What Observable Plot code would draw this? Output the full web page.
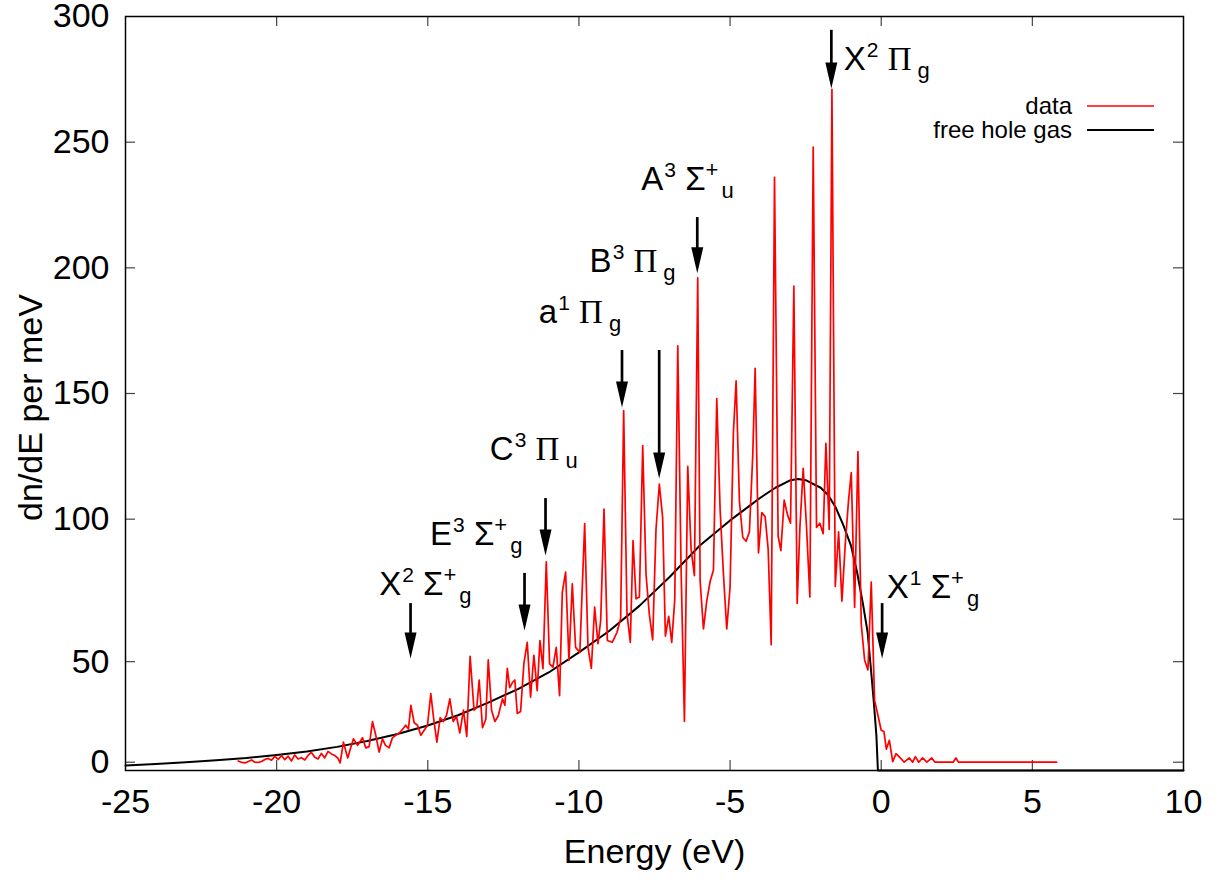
<!DOCTYPE html>
<html><head><meta charset="utf-8">
<script src="https://cdn.jsdelivr.net/npm/d3@7"></script>
<script src="https://cdn.jsdelivr.net/npm/@observablehq/plot@0.6"></script>
<style>body{margin:0;background:#fff;} svg{display:block;}</style>
</head><body><div id="chart"></div>
<script>
// ---- data ----
const energy = [
-21.27,-21.16,-21.05,-20.94,-20.83,-20.72,-20.61,-20.50,-20.39,-20.28,-20.17,-20.06,-19.95,-19.84,-19.73,-19.62,-19.51,-19.40,-19.29,-19.18,-19.07,-18.96,-18.85,-18.74,-18.63,-18.52,-18.41,-18.30,-18.19,-18.08,-17.97,-17.90,
-17.79,-17.65,-17.46,-17.32,-17.16,-17.05,-16.94,-16.83,-16.72,-16.61,-16.50,-16.40,-16.28,-16.17,-16.06,-15.95,-15.84,-15.73,-15.64,-15.56,-15.45,-15.34,-15.23,-15.12,-15.01,
-14.90,-14.81,-14.70,-14.59,-14.48,-14.38,-14.27,-14.16,-14.05,-13.94,-13.82,-13.71,-13.60,-13.47,-13.38,-13.30,-13.19,-13.08,-13.00,-12.89,-12.78,-12.67,-12.53,-12.45,-12.37,-12.29,-12.20,-12.12,-12.04,
-11.93,-11.82,-11.71,-11.60,-11.49,-11.38,-11.29,-11.19,-11.08,-10.97,-10.86,-10.75,-10.64,-10.55,-10.44,-10.33,-10.22,-10.11,-9.97,-9.81,-9.70,-9.59,-9.48,-9.37,-9.28,-9.17,-9.06,
-8.90,-8.74,-8.62,-8.52,-8.41,-8.30,-8.21,-8.11,-8.00,-7.89,-7.78,-7.67,-7.56,-7.45,-7.34,-7.23,-7.14,-7.03,-6.93,-6.83,-6.73,-6.62,-6.51,-6.40,-6.29,-6.18,-6.07,
-5.99,-5.88,-5.77,-5.66,-5.55,-5.44,-5.33,-5.22,-5.11,-5.00,-4.89,-4.80,-4.69,-4.58,-4.47,-4.36,-4.25,-4.17,-4.06,-3.95,-3.84,-3.74,-3.64,-3.53,
-3.41,-3.32,-3.21,-3.10,-3.00,-2.89,-2.78,-2.69,-2.58,-2.47,-2.36,-2.25,-2.14,-2.03,-1.92,-1.83,-1.72,-1.63,-1.52,-1.41,-1.30,-1.19,-1.08,-0.99,-0.88,-0.77,-0.66,-0.55,-0.44,-0.33,-0.22,-0.11,
0.00,0.09,0.17,0.27,0.38,0.49,0.63,0.76,0.93,1.04,1.13,1.24,1.37,1.51,1.67,1.78,2.38,2.47,2.56,5.80
];
const dndE = [
3.8,3.2,3.0,3.6,4.2,3.3,3.2,3.6,4.4,4.8,4.1,5.6,4.4,6.0,4.3,5.7,3.8,6.2,4.6,5.1,4.2,6.0,7.2,5.3,4.6,6.8,5.0,7.6,6.6,6.0,4.8,3.0,
11.3,5.0,12.6,10.0,13.0,9.0,9.5,19.5,14.0,7.3,12.6,10.0,9.0,13.0,14.0,14.8,16.3,18.0,16.5,25.9,19.0,18.0,14.0,16.0,18.0,
30.6,21.0,11.3,21.0,19.5,22.0,28.5,19.5,21.5,15.0,24.0,13.5,45.4,24.0,25.0,36.0,17.0,20.4,44.0,24.0,19.5,21.7,28.5,26.0,40.6,33.0,35.0,36.0,22.7,
23.5,42.6,51.0,29.2,45.8,31.8,51.7,40.5,83.0,42.4,41.1,49.0,29.8,71.0,78.9,43.8,74.3,49.0,47.0,98.2,49.0,40.6,65.0,50.5,59.7,104.0,51.7,
51.0,55.0,60.5,143.2,62.3,51.0,91.5,68.3,69.0,129.3,78.0,62.0,52.0,96.0,114.0,100.5,53.5,61.3,51.0,68.0,169.0,80.0,19.5,121.0,88.0,77.5,196.0,
75.2,56.3,67.6,75.2,79.8,148.0,104.0,78.3,56.3,73.0,134.5,155.0,107.0,92.7,91.2,95.0,125.4,160.0,86.6,102.6,101.0,88.0,50.0,236.0,
93.3,87.5,107.6,101.7,98.4,192.7,66.5,96.7,120.2,96.7,69.0,248.0,96.7,98.4,94.2,130.2,95.9,271.0,73.2,95.0,67.4,90.0,107.6,118.5,64.9,126.9,58.2,44.0,40.0,75.0,28.0,22.0,
16.0,15.5,8.5,12.0,3.5,6.7,5.0,3.3,5.0,3.3,5.5,3.3,5.0,3.3,5.0,3.3,3.3,5.0,3.3,3.3
];
const gasEnergy = [-25,-24,-23,-22,-21,-20,-19,-18,-17,-16,-15,-14,-13,-12,-11,-10,-9,-8,-7,-6,-5,-4.5,-4,-3.5,-3,-2.75,-2.5,-2,-1.75,-1.5,-1.25,-1,-0.8,-0.6,-0.45,-0.33,-0.25,-0.16,-0.11,10];
const gasDensity = [2.0,2.6,3.3,4.1,5.0,6.2,7.6,9.4,11.7,14.5,17.9,22.0,27.0,32.5,39.0,47.0,55.5,65.5,77.0,89.5,99.5,104,108.5,112.5,115.5,116,115.5,112.5,109.5,104.5,97.5,89.5,79,66,55,39,28,14,0,0];

const xTickValues = [-25,-20,-15,-10,-5,0,5,10];
const yTickValues = [3.3,43.3,100,150,200,250,300];
const yTickLabels = ["0","50","100","150","200","250","300"];

// arrows: energy, from density, to density
const arrowEnergy = [-1.65,-6.085,-8.575,-7.345,-11.105,-11.8,-15.57,0.03];
const arrowFrom   = [294.5,220.0,167.1,167.1,108.2,78.4,66.4,66.4];
const arrowTo     = [271.4,197.8,144.4,116.2,85.5,55.7,44.6,44.6];

// state labels
const labelLetter  = ["X","A","B","a","C","E","X","X"];
const labelMult    = ["2","3","3","1","3","3","2","1"];
const labelSymbol  = ["Π","Σ","Π","Π","Π","Σ","Σ","Σ"];
const labelParity  = ["g","u","g","g","u","g","g","g"];
const labelEnergy  = [-1.22,-7.92,-9.63,-11.31,-12.93,-14.91,-16.59,0.2];
const labelDensity = [278.5,230.8,198.2,177.9,123.3,89.5,69.6,68.4];

const legendNames = ["data","free hole gas"];
const legendColors = ["#ff0000","#000000"];

// ---- build ----
const dataRows = energy.map((e,i)=>({e, v:dndE[i]}));
const gasRows = gasEnergy.map((e,i)=>({e, v:gasDensity[i]}));
const arrows = arrowEnergy.map((e,i)=>({e, from:arrowFrom[i], to:arrowTo[i]}));
const yTicks = yTickValues.map((v,i)=>({v, label:yTickLabels[i]}));

const W=1229, H=880, mL=125, mR=46, mT=16, mB=110;
const innerW = W-mL-mR, innerH = H-mT-mB;
const tickLen = 10;

const arrowHead = {
  draw(ctx){ ctx.moveTo(0,0); ctx.lineTo(-6,-26); ctx.lineTo(6,-26); ctx.closePath(); }
};

const font = "Liberation Sans, Arial, Helvetica, sans-serif";
const plot = Plot.plot({
  width:W, height:H, marginLeft:mL, marginRight:mR, marginTop:mT, marginBottom:mB,
  x:{domain:[-25,10], axis:null},
  y:{domain:[0,300], axis:null},
  style:{fontFamily:font, background:"white", color:"black", overflow:"visible"},
  marks:[
    Plot.tickX(xTickValues.slice(1,-1), {x:d=>d, insetTop:innerH-tickLen, stroke:"#444", strokeWidth:1.2}),
    Plot.tickX(xTickValues.slice(1,-1), {x:d=>d, insetBottom:innerH-tickLen, stroke:"#444", strokeWidth:1.2}),
    Plot.tickY(yTicks.slice(0,-1), {y:"v", insetRight:innerW-tickLen, stroke:"#444", strokeWidth:1.2}),
    Plot.tickY(yTicks.slice(0,-1), {y:"v", insetLeft:innerW-tickLen, stroke:"#444", strokeWidth:1.2}),
    Plot.text(xTickValues, {x:d=>d, frameAnchor:"bottom", textAnchor:"middle", dy:42, text:d=>String(d), fontSize:34, fill:"black"}),
    Plot.text(yTicks, {y:"v", text:"label", frameAnchor:"left", textAnchor:"end", dx:-16, fontSize:34, fill:"black"}),
    Plot.text(["Energy (eV)"], {frameAnchor:"bottom", textAnchor:"middle", dy:92, text:d=>d, fontSize:34, fill:"black"}),
    Plot.text(["dn/dE per meV"], {frameAnchor:"left", textAnchor:"middle", dx:-94, dy:14, rotate:-90, text:d=>d, fontSize:34, fill:"black"}),
    Plot.line(gasRows, {x:"e", y:"v", stroke:"black", strokeWidth:2}),
    Plot.line(dataRows, {x:"e", y:"v", stroke:"#ff0000", strokeWidth:1.7}),
    Plot.ruleX(arrows, {x:"e", y1:"from", y2:"to", insetBottom:12, stroke:"black", strokeWidth:2.7}),
    Plot.dot(arrows, {x:"e", y:"to", symbol:arrowHead, fill:"black", stroke:"none"}),
    Plot.frame({stroke:"black", strokeWidth:1.5})
  ]
});
document.getElementById("chart").appendChild(plot);

const sx = plot.scale("x"), sy = plot.scale("y");
const svg = d3.select(plot);
const g = svg.append("g").attr("font-family", font).attr("fill","black").attr("text-anchor","start");
labelLetter.forEach((L,i)=>{
  const t = g.append("text").attr("x", sx.apply(labelEnergy[i])).attr("y", sy.apply(labelDensity[i])).attr("font-size",33);
  t.append("tspan").text(L);
  t.append("tspan").attr("font-size",21).attr("dy",-13).attr("dx",1).text(labelMult[i]);
  t.append("tspan").attr("dy",13).text(" ");
  if (labelSymbol[i]==="Π") {
    t.append("tspan").attr("font-family","Liberation Serif, Times New Roman, serif").attr("font-size",33).text("Π");
    t.append("tspan").attr("font-size",22).attr("dx",6).attr("dy",8).text(labelParity[i]);
  } else {
    t.append("tspan").text("Σ");
    t.append("tspan").attr("font-size",22).attr("dy",-13).text("+");
    t.append("tspan").attr("font-size",22).attr("dx",3).attr("dy",21).text(labelParity[i]);
  }
});

const lg = svg.append("g").attr("font-family", font).attr("font-size",24);
legendNames.forEach((n,i)=>{
  const y = 106 + i*24;
  lg.append("text").attr("x",1072).attr("y",y+8).attr("text-anchor","end").attr("fill","black").text(n);
  lg.append("line").attr("x1",1087).attr("x2",1154).attr("y1",y).attr("y2",y)
    .attr("stroke",legendColors[i]).attr("stroke-width", i===0?1.7:2);
});
</script>
</body></html>
